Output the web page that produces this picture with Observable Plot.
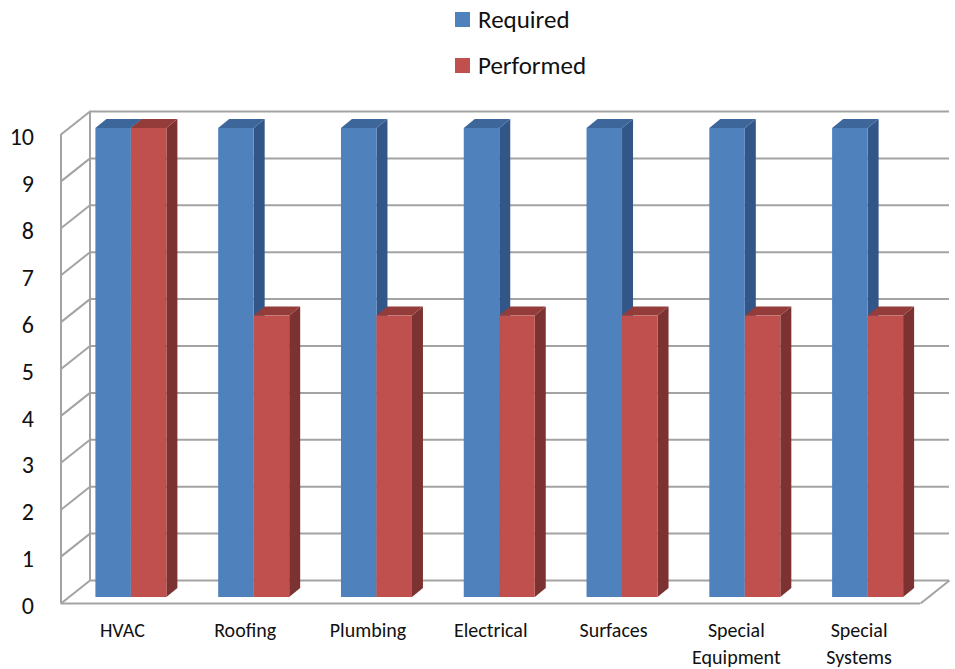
<!DOCTYPE html>
<html>
<head>
<meta charset="utf-8">
<script src="https://cdn.jsdelivr.net/npm/d3@7"></script>
<script src="https://cdn.jsdelivr.net/npm/@observablehq/plot@0.6"></script>
<style>
  html, body { margin: 0; padding: 0; background: #fff; }
  #wrap { width: 955px; height: 669px; position: relative; font-family: Carlito, Calibri, Lato, sans-serif; }
  #legend { position: relative; height: 85px; }
  .item { position: absolute; left: 455px; display: flex; align-items: center; font-size: 25px; color: #111; height: 30px; }
  .sw { width: 15px; height: 15px; margin-right: 8px; }
</style>
</head>
<body>
<div id="wrap">
  <div id="legend"></div>
  <div id="chart"></div>
</div>
<script>
// ---- data ----
const categories = ["HVAC", "Roofing", "Plumbing", "Electrical", "Surfaces", "Special\nEquipment", "Special\nSystems"];
const required  = [10, 10, 10, 10, 10, 10, 10];
const performed = [10, 6, 6, 6, 6, 6, 6];
const seriesNames = ["Required", "Performed"];
const yTicks = [0, 1, 2, 3, 4, 5, 6, 7, 8, 9, 10];

// ---- style ----
const palette = {
  Required:  {front: "#4F81BD", side: "#335689", top: "#3D679B"},
  Performed: {front: "#C0504D", side: "#7B3230", top: "#943C3A"}
};
const W = 955, H = 584;
const margin = {left: 69.5, right: 26, top: 43, bottom: 72};
const xDomain = [-0.5, categories.length - 0.5];
const yDomain = [0, 10];
const pxPerX = (W - margin.left - margin.right) / (xDomain[1] - xDomain[0]);
const pxPerY = (H - margin.top - margin.bottom) / (yDomain[1] - yDomain[0]);
const toX = px => px / pxPerX;      // pixel offset -> x data units
const toY = px => -px / pxPerY;     // pixel offset (down positive) -> y data units
const barW = toX(35.5);
const depth = {dx: toX(11), dy: toY(-9)};             // bar depth
const front = {px: -9, py: 6};                        // front wall plane relative to bars
const back  = {px: 20, py: -17};                      // back wall plane relative to bars
const gridStyle = {stroke: "#a3a3a3", strokeWidth: 2};

// ---- legend ----
const legend = document.getElementById("legend");
seriesNames.forEach((s, k) => {
  const it = document.createElement("div");
  it.className = "item";
  it.style.top = (k === 0 ? 4 : 50) + "px";
  it.innerHTML = `<span class="sw" style="background:${palette[s].front}"></span><span>${s}</span>`;
  legend.appendChild(it);
});

// ---- rows ----
const bars = [];
categories.forEach((c, i) => {
  bars.push({series: "Required", i, value: required[i], x1: i - barW, x2: i});
  bars.push({series: "Performed", i, value: performed[i], x1: i, x2: i + barW});
});
const sidePts = bars.flatMap((b, k) => [
  {...b, id: k, x: b.x2, y1: 0, y2: b.value},
  {...b, id: k, x: b.x2 + depth.dx, y1: depth.dy, y2: b.value + depth.dy}
]);
const topPts = bars.flatMap((b, k) => [
  {...b, id: k, y: b.value, xa: b.x1, xb: b.x2},
  {...b, id: k, y: b.value + depth.dy, xa: b.x1 + depth.dx, xb: b.x2 + depth.dx}
]);

const barMarks = seriesNames.flatMap(s => [
  Plot.areaY(sidePts.filter(d => d.series === s), {x: "x", y1: "y1", y2: "y2", z: "id", fill: palette[s].side}),
  Plot.areaX(topPts.filter(d => d.series === s), {y: "y", x1: "xa", x2: "xb", z: "id", fill: palette[s].top}),
  Plot.rect(bars.filter(d => d.series === s), {x1: "x1", x2: "x2", y1: () => 0, y2: "value", fill: palette[s].front})
]);

const fx = toX(front.px), fy = toY(front.py), bx = toX(back.px), by = toY(back.py);

const chart = Plot.plot({
  width: W,
  height: H,
  marginLeft: margin.left,
  marginRight: margin.right,
  marginTop: margin.top,
  marginBottom: margin.bottom,
  x: {domain: xDomain},
  y: {domain: yDomain},
  style: {fontFamily: "Carlito, Calibri, Lato, sans-serif", background: "#fff", overflow: "visible", color: "#111"},
  marks: [
    // back wall gridlines
    Plot.ruleY(yTicks, {y: d => d, x1: () => xDomain[0], x2: () => xDomain[1], dx: back.px, dy: back.py, ...gridStyle}),
    // back-left vertical
    Plot.ruleX([xDomain[0]], {x: d => d, y1: () => 0, y2: () => 10, dx: back.px, dy: back.py, ...gridStyle}),
    // left wall diagonals
    Plot.link(yTicks, {x1: () => xDomain[0] + fx, y1: d => d + fy, x2: () => xDomain[0] + bx, y2: d => d + by, ...gridStyle}),
    // front-left vertical
    Plot.ruleX([xDomain[0]], {x: d => d, y1: () => 0, y2: () => 10, dx: front.px, dy: front.py, ...gridStyle}),
    // floor front edge
    Plot.ruleY([0], {y: d => d, x1: () => xDomain[0], x2: () => xDomain[1], dx: front.px, dy: front.py, ...gridStyle}),
    // floor right diagonal
    Plot.link([0], {x1: () => xDomain[1] + fx, y1: d => d + fy, x2: () => xDomain[1] + bx, y2: d => d + by, ...gridStyle}),
    ...barMarks,
    Plot.axisY({ticks: yTicks, tickSize: 0, tickPadding: 36, dy: 9, fontSize: 24, label: null}),
    Plot.axisX({ticks: categories.map((_, i) => i), tickFormat: i => categories[i], tickSize: 0, tickPadding: 20, dx: front.px, fontSize: 20, lineHeight: 1.35, label: null})
  ]
});
document.getElementById("chart").appendChild(chart);
</script>
</body>
</html>
